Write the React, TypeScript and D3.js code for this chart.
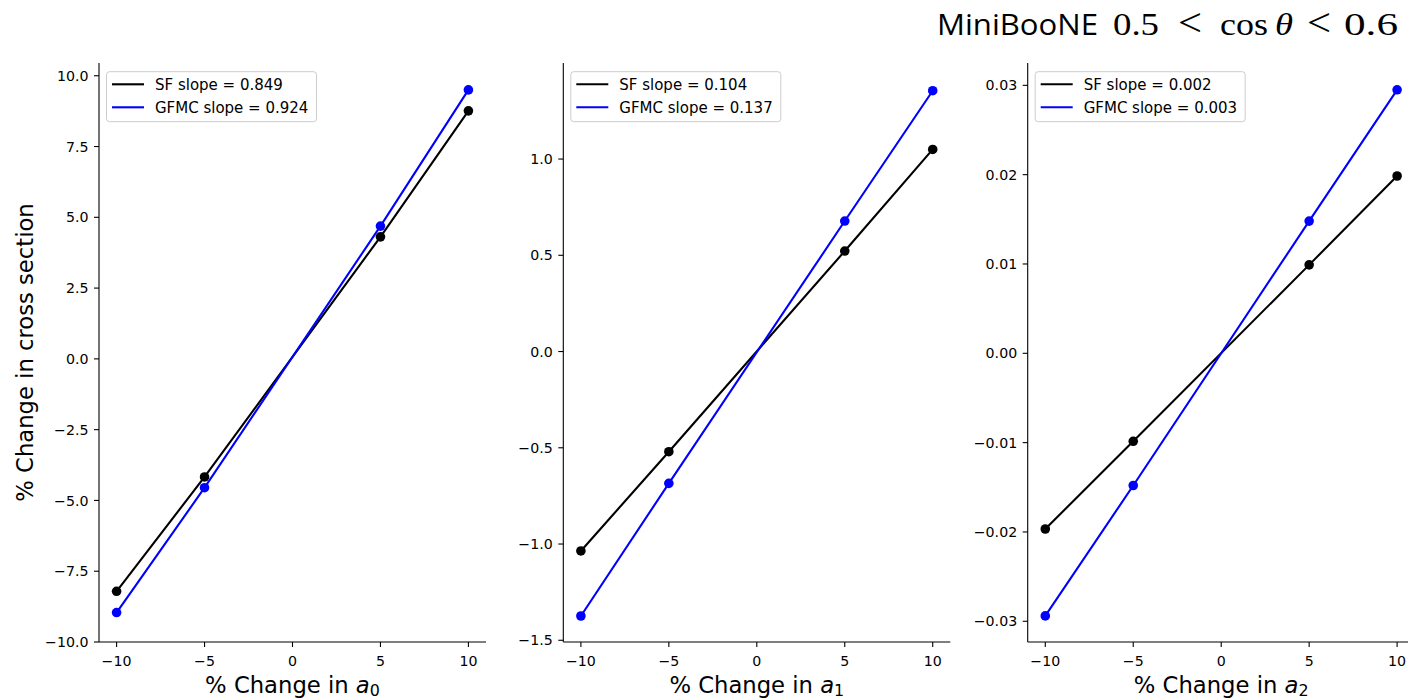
import React from "react";
import * as d3 from "d3";

const xValues = [-10, -5, 5, 10];
const xTicks = [-10, -5, 0, 5, 10];

const sfA0 = [-8.21, -4.17, 4.31, 8.76];
const gfmcA0 = [-8.96, -4.55, 4.69, 9.5];
const sfA1 = [-1.036, -0.5205, 0.522, 1.05];
const gfmcA1 = [-1.374, -0.6847, 0.678, 1.355];
const sfA2 = [-0.01967, -0.00985, 0.0099, 0.01985];
const gfmcA2 = [-0.0294, -0.0148, 0.0148, 0.0295];

const yTicksA0 = [-10, -7.5, -5, -2.5, 0, 2.5, 5, 7.5, 10];
const yTicksA1 = [-1.5, -1.0, -0.5, 0, 0.5, 1.0];
const yTicksA2 = [-0.03, -0.02, -0.01, 0, 0.01, 0.02, 0.03];

const sfSlopes = ["0.849", "0.104", "0.002"];
const gfmcSlopes = ["0.924", "0.137", "0.003"];
const subscripts = ["0", "1", "2"];

const W = 1408;
const H = 698;
const TOP = 63;
const BOTTOM = 642;
const AX_W = 387;
const AX_LEFTS = [99, 563.3, 1027.7];

const FONT = "'DejaVu Sans', sans-serif";
const TICK_FS = 14.2;
const LEGEND_FS = 15;
const LABEL_FS = 22.7;

const minus = (s: string) => s.replace(/-/g, "\u2212");

interface PanelProps {
  left: number;
  sf: number[];
  gfmc: number[];
  yDomain: [number, number];
  yTicks: number[];
  yDigits: number;
  sfSlope: string;
  gfmcSlope: string;
  sub: string;
}

function Panel({ left, sf, gfmc, yDomain, yTicks, yDigits, sfSlope, gfmcSlope, sub }: PanelProps) {
  const x = d3.scaleLinear().domain([-11, 11]).range([left, left + AX_W]);
  const y = d3.scaleLinear().domain(yDomain).range([BOTTOM, TOP]);
  const line = d3
    .line<number>()
    .x((_, i) => x(xValues[i]))
    .y((d) => y(d));
  const series = [
    { vals: sf, color: "#000000" },
    { vals: gfmc, color: "#0000ff" },
  ];
  const fmt = d3.format(`.${yDigits}f`);
  const lx = left + 7.5;
  const ly = 71.7;
  const cx = (left + left + AX_W) / 2;
  return (
    <g>
      {series.map((s, k) => (
        <g key={k}>
          <path d={line(s.vals) || ""} fill="none" stroke={s.color} strokeWidth={2.1} />
          {s.vals.map((v, i) => (
            <circle key={i} cx={x(xValues[i])} cy={y(v)} r={4.8} fill={s.color} />
          ))}
        </g>
      ))}
      {/* spines */}
      <line x1={left} x2={left} y1={TOP} y2={BOTTOM} stroke="#000" strokeWidth={1.1} />
      <line x1={left} x2={left + AX_W} y1={BOTTOM} y2={BOTTOM} stroke="#000" strokeWidth={1.1} />
      {/* x ticks */}
      {xTicks.map((t) => (
        <g key={t}>
          <line x1={x(t)} x2={x(t)} y1={BOTTOM} y2={BOTTOM + 5} stroke="#000" strokeWidth={1.1} />
          <text x={x(t)} y={666} textAnchor="middle" fontFamily={FONT} fontSize={TICK_FS} fill="#000">
            {minus(String(t))}
          </text>
        </g>
      ))}
      {/* y ticks */}
      {yTicks.map((t) => (
        <g key={t}>
          <line x1={left - 5} x2={left} y1={y(t)} y2={y(t)} stroke="#000" strokeWidth={1.1} />
          <text
            x={left - 10.5}
            y={y(t)}
            dy="0.36em"
            textAnchor="end"
            fontFamily={FONT}
            fontSize={TICK_FS}
            fill="#000"
          >
            {minus(fmt(t))}
          </text>
        </g>
      ))}
      {/* x label */}
      <text x={cx} y={692.5} textAnchor="middle" fontFamily={FONT} fontSize={LABEL_FS} fill="#000">
        % Change in{" "}
        <tspan fontStyle="italic">a</tspan>
        <tspan fontSize={LABEL_FS * 0.7} dy={3}>
          {sub}
        </tspan>
      </text>
      {/* legend */}
      <rect x={lx} y={ly} width={210} height={50} rx={3} fill="#fff" fillOpacity={0.8} stroke="#cccccc" strokeWidth={1} />
      <line x1={left + 13} x2={left + 45} y1={84.3} y2={84.3} stroke="#000" strokeWidth={2.1} />
      <line x1={left + 13} x2={left + 45} y1={107.3} y2={107.3} stroke="#0000ff" strokeWidth={2.1} />
      <text x={left + 56} y={84.3} dy="0.36em" fontFamily={FONT} fontSize={LEGEND_FS} fill="#000">
        SF slope = {sfSlope}
      </text>
      <text x={left + 56} y={107.3} dy="0.36em" fontFamily={FONT} fontSize={LEGEND_FS} fill="#000">
        GFMC slope = {gfmcSlope}
      </text>
    </g>
  );
}

export default function App() {
  const panels: PanelProps[] = [
    { left: AX_LEFTS[0], sf: sfA0, gfmc: gfmcA0, yDomain: [-10, 10.45], yTicks: yTicksA0, yDigits: 1, sfSlope: sfSlopes[0], gfmcSlope: gfmcSlopes[0], sub: subscripts[0] },
    { left: AX_LEFTS[1], sf: sfA1, gfmc: gfmcA1, yDomain: [-1.509, 1.499], yTicks: yTicksA1, yDigits: 1, sfSlope: sfSlopes[1], gfmcSlope: gfmcSlopes[1], sub: subscripts[1] },
    { left: AX_LEFTS[2], sf: sfA2, gfmc: gfmcA2, yDomain: [-0.03232, 0.0325], yTicks: yTicksA2, yDigits: 2, sfSlope: sfSlopes[2], gfmcSlope: gfmcSlopes[2], sub: subscripts[2] },
  ];
  const serif = "'Liberation Serif', 'DejaVu Serif', serif";
  return (
    <svg
      width={W}
      height={H}
      style={{ position: "absolute", left: 0, top: 0, background: "#fff" }}
      xmlns="http://www.w3.org/2000/svg"
    >
      <rect x={0} y={0} width={W} height={H} fill="#fff" />
      {panels.map((p, i) => (
        <Panel key={i} {...p} />
      ))}
      <text
        x={33}
        y={(TOP + BOTTOM) / 2}
        transform={`rotate(-90, 33, ${(TOP + BOTTOM) / 2})`}
        textAnchor="middle"
        fontFamily={FONT}
        fontSize={LABEL_FS}
        fill="#000"
      >
        % Change in cross section
      </text>
      {/* title */}
      <g fill="#000">
        <text x={937} y={34.5} fontFamily="'Open Sans', 'Noto Sans', sans-serif" fontSize={30} textLength={161} lengthAdjust="spacingAndGlyphs">
          MiniBooNE
        </text>
        <text x={1113} y={34.5} fontFamily={serif} fontSize={32} textLength={46} lengthAdjust="spacingAndGlyphs">
          0.5
        </text>
        <text x={1178} y={35.5} fontFamily={serif} fontSize={40} textLength={24} lengthAdjust="spacingAndGlyphs">
          &lt;
        </text>
        <text x={1220} y={34.5} fontFamily={serif} fontSize={32} textLength={48} lengthAdjust="spacingAndGlyphs">
          cos
        </text>
        <text x={1275} y={34.5} fontFamily={serif} fontSize={32} fontStyle="italic" textLength={18} lengthAdjust="spacingAndGlyphs">
          θ
        </text>
        <text x={1307} y={35.5} fontFamily={serif} fontSize={40} textLength={24} lengthAdjust="spacingAndGlyphs">
          &lt;
        </text>
        <text x={1344} y={34.5} fontFamily={serif} fontSize={32} textLength={54} lengthAdjust="spacingAndGlyphs">
          0.6
        </text>
      </g>
    </svg>
  );
}
